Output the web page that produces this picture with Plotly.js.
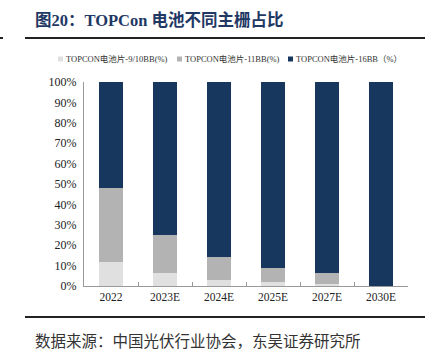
<!DOCTYPE html>
<html><head><meta charset="utf-8">
<script src="https://cdn.plot.ly/plotly-3.0.1.min.js"></script>
<style>html,body{margin:0;padding:0;background:#fff}#chart{width:433px;height:355px}</style>
</head><body><div id="chart"></div>
<script>
const categories = ['2022','2023E','2024E','2025E','2027E','2030E'];
const bb910 = [12, 6.5, 3, 2, 1, 0];
const bb11 = [36, 18.5, 11, 7, 5.5, 0];
const bb16 = [52, 75, 86, 91, 93.5, 100];
const seriesNames = ['TOPCON电池片-9/10BB(%)','TOPCON电池片-11BB(%)','TOPCON电池片-16BB（%）'];
const yTicks = [0,10,20,30,40,50,60,70,80,90,100];

const serif = '"Liberation Serif","Times New Roman","Noto Sans CJK SC",serif';
const colors = ['#e0e0e0','#b3b3b3','#17375e'];
const data = [bb910, bb11, bb16].map((v,i)=>({
  type:'bar', x:categories, y:v, name:seriesNames[i], showlegend:false,
  marker:{color:colors[i], line:{width:0}}
}));

const W=433,H=355,L=84,R=25,T=82,B=69;
const pw=W-L-R, ph=H-T-B;
const px=x=>(x-L)/pw, py=y=>(H-B-y)/ph;

// manual legend (positions in pixels)
const legX=[58,177,288], legY=59;
const shapes=[
  {type:'line', xref:'paper', yref:'paper', x0:px(25), x1:px(425), y0:py(38), y1:py(38), line:{color:'#222',width:2}},
  {type:'line', xref:'paper', yref:'paper', x0:px(0), x1:px(3), y0:py(38), y1:py(38), line:{color:'#222',width:2}},
  {type:'line', xref:'paper', yref:'paper', x0:px(25), x1:px(425), y0:py(317), y1:py(317), line:{color:'#222',width:2}}
];
const annotations=[
  {text:'数据来源：中国光伏行业协会，东吴证券研究所', xref:'paper', yref:'paper', x:px(33), y:py(340), xanchor:'left', yanchor:'middle', showarrow:false,
    font:{family:'"Noto Sans CJK SC",sans-serif',size:15.5,color:'#333'}}
];
seriesNames.forEach((n,i)=>{
  shapes.push({type:'rect', xref:'paper', yref:'paper', x0:px(legX[i]), x1:px(legX[i]+5), y0:py(legY+2.5), y1:py(legY-2.5), line:{width:0}, fillcolor:colors[i]});
  annotations.push({text:n, xref:'paper', yref:'paper', x:px(legX[i]+6), y:py(legY), xanchor:'left', yanchor:'middle', showarrow:false,
    font:{family:serif,size:8.5,color:'#333'}});
});

const layout = {
  width:W, height:H,
  margin:{l:L,r:R,t:T,b:B,pad:0},
  paper_bgcolor:'#fff', plot_bgcolor:'#fff',
  barmode:'stack', bargap:0.57,
  showlegend:false,
  title:{text:'<b>图20：TOPCon 电池不同主栅占比</b>', x:35/W, xanchor:'left', xref:'container', y:1-20/H, yref:'container', yanchor:'middle',
    font:{family:serif,size:16.5,color:'#1f3864'}},
  xaxis:{type:'category', showline:true, linecolor:'#999', linewidth:1, ticks:'inside', ticklen:4, tickcolor:'#999', tickson:'boundaries',
    tickfont:{family:serif,size:11.5,color:'#222'}, showgrid:false, zeroline:false, fixedrange:true},
  yaxis:{range:[0,100], tickvals:yTicks, ticktext:yTicks.map(v=>v+'%'), showline:true, linecolor:'#999', linewidth:1, ticks:'',
    tickfont:{family:serif,size:12,color:'#222'}, showgrid:false, zeroline:false, fixedrange:true, ticklabelstandoff:4},
  shapes, annotations
};
Plotly.newPlot('chart', data, layout, {displayModeBar:false, staticPlot:true});
</script></body></html>
